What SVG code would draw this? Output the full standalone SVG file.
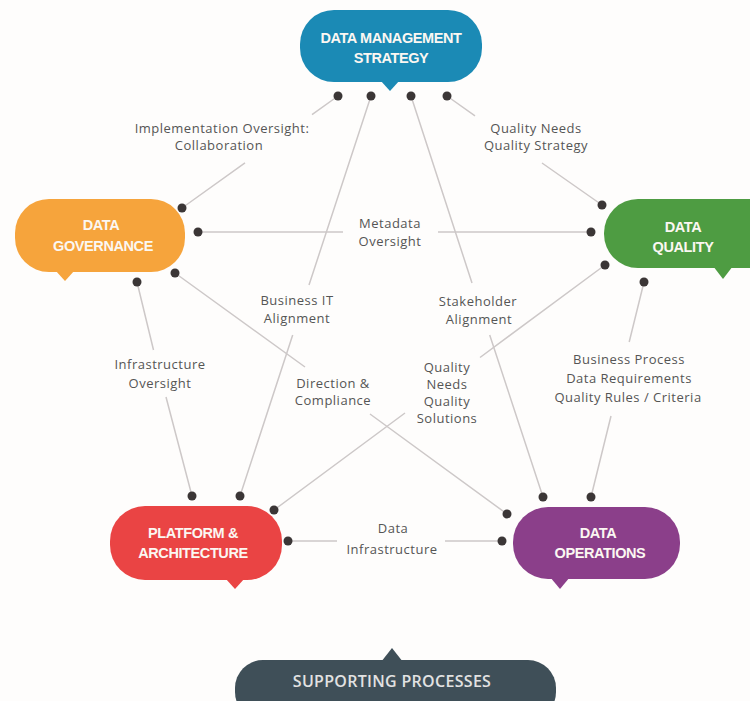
<svg xmlns="http://www.w3.org/2000/svg" width="750" height="701" viewBox="0 0 750 701">
<style>
.title{font-family:"Liberation Sans",Arial,sans-serif;font-weight:bold;font-size:14.5px;letter-spacing:-0.4px;fill:#fbf7f2;text-anchor:middle}
.lbl{font-family:"Open Sans","DejaVu Sans",sans-serif;font-size:13px;letter-spacing:0.5px;fill:#555;text-anchor:middle}
.conn{stroke:#cdc8c8;stroke-width:1.5;fill:none}
.dot{fill:#3b3636}
</style>
<rect x="0" y="0" width="750" height="701" fill="#fefdfc"/>
<g id="connectors">
<path class="conn" d="M338,96 L312,114.7 M245,162.8 L182,208"/>
<path class="conn" d="M371,96 L309,285 M292.7,335 L240,496"/>
<path class="conn" d="M411,96 L472,283 M489.7,335 L543,497"/>
<path class="conn" d="M447,96 L475,115.8 M542,163 L602,205"/>
<path class="conn" d="M198,232 L343,232 M438,232 L591,232"/>
<path class="conn" d="M175,273 L305,367 M370,414 L507,514"/>
<path class="conn" d="M137,282 L153.5,350 M166,397 L192,496"/>
<path class="conn" d="M605,265 L480,357.5 M405,413 L274,510"/>
<path class="conn" d="M644,282 L629.2,342 M611,416 L591,497"/>
<path class="conn" d="M288,541 L337,541 M445,541 L502,541"/>
<g>
<circle class="dot" cx="338" cy="96" r="4.5"/><circle class="dot" cx="371" cy="96" r="4.5"/><circle class="dot" cx="411" cy="96" r="4.5"/><circle class="dot" cx="447" cy="96" r="4.5"/>
<circle class="dot" cx="182" cy="208" r="4.5"/><circle class="dot" cx="198" cy="232" r="4.5"/><circle class="dot" cx="175" cy="273" r="4.5"/><circle class="dot" cx="137" cy="282" r="4.5"/>
<circle class="dot" cx="602" cy="205" r="4.5"/><circle class="dot" cx="591" cy="232" r="4.5"/><circle class="dot" cx="605" cy="265" r="4.5"/><circle class="dot" cx="644" cy="282" r="4.5"/>
<circle class="dot" cx="192" cy="496" r="4.5"/><circle class="dot" cx="240" cy="496" r="4.5"/><circle class="dot" cx="274" cy="510" r="4.5"/><circle class="dot" cx="288" cy="541" r="4.5"/>
<circle class="dot" cx="543" cy="497" r="4.5"/><circle class="dot" cx="591" cy="497" r="4.5"/><circle class="dot" cx="507" cy="514" r="4.5"/><circle class="dot" cx="502" cy="541" r="4.5"/>
</g>
<g>
<text class="lbl" x="222" y="133">Implementation Oversight:</text>
<text class="lbl" x="219" y="150">Collaboration</text>
<text class="lbl" x="536" y="133">Quality Needs</text>
<text class="lbl" x="536" y="150">Quality Strategy</text>
<text class="lbl" x="390" y="228">Metadata</text>
<text class="lbl" x="390" y="246">Oversight</text>
<text class="lbl" x="297" y="305">Business IT</text>
<text class="lbl" x="297" y="323">Alignment</text>
<text class="lbl" x="478" y="306">Stakeholder</text>
<text class="lbl" x="479" y="324">Alignment</text>
<text class="lbl" x="160" y="369">Infrastructure</text>
<text class="lbl" x="160" y="388">Oversight</text>
<text class="lbl" x="333" y="388">Direction &amp;</text>
<text class="lbl" x="333" y="405">Compliance</text>
<text class="lbl" x="447" y="372">Quality</text>
<text class="lbl" x="447" y="389">Needs</text>
<text class="lbl" x="447" y="406">Quality</text>
<text class="lbl" x="447" y="423">Solutions</text>
<text class="lbl" x="629" y="364">Business Process</text>
<text class="lbl" x="629" y="383">Data Requirements</text>
<text class="lbl" x="628" y="402">Quality Rules / Criteria</text>
<text class="lbl" x="393" y="533">Data</text>
<text class="lbl" x="392" y="554">Infrastructure</text>
</g>
</g>
<g id="dms">
<rect x="300" y="10" width="182" height="72" rx="34" fill="#1b8ab5"/>
<path d="M380,80 L400,80 L390,91 Z" fill="#1b8ab5"/>
<text class="title" x="391" y="43">DATA MANAGEMENT</text>
<text class="title" x="391" y="63">STRATEGY</text>
</g>
<g id="governance">
<rect x="15" y="199" width="170" height="73" rx="34" fill="#f6a43c"/>
<path d="M55,270 L75,270 L65,281 Z" fill="#f6a43c"/>
<text class="title" x="101" y="230">DATA</text>
<text class="title" x="103" y="251">GOVERNANCE</text>
</g>
<g id="quality">
<rect x="604" y="199" width="180" height="69" rx="34" fill="#4e9c42"/>
<path d="M713,266 L733,266 L723,279 Z" fill="#4e9c42"/>
<text class="title" x="683" y="232">DATA</text>
<text class="title" x="683" y="252">QUALITY</text>
</g>
<g id="platform">
<rect x="110" y="506" width="172" height="74" rx="35" fill="#ea4444"/>
<path d="M225,578 L245,578 L235,589 Z" fill="#ea4444"/>
<text class="title" x="193" y="538">PLATFORM &amp;</text>
<text class="title" x="193" y="558">ARCHITECTURE</text>
</g>
<g id="operations">
<rect x="513" y="507" width="167" height="72" rx="35" fill="#8b3f8a"/>
<path d="M550,577 L570,577 L560,589 Z" fill="#8b3f8a"/>
<text class="title" x="598" y="538">DATA</text>
<text class="title" x="600" y="558">OPERATIONS</text>
</g>
<g id="supporting">
<rect x="235" y="660" width="321" height="60" rx="28" fill="#3f4f58"/>
<path d="M381,662 L403,662 L392,648 Z" fill="#3f4f58"/>
<text x="392" y="687" text-anchor="middle" font-family="'Open Sans','DejaVu Sans',sans-serif" font-weight="600" font-size="16px" letter-spacing="0.3" fill="#e2e2e2">SUPPORTING PROCESSES</text>
</g>
</svg>
